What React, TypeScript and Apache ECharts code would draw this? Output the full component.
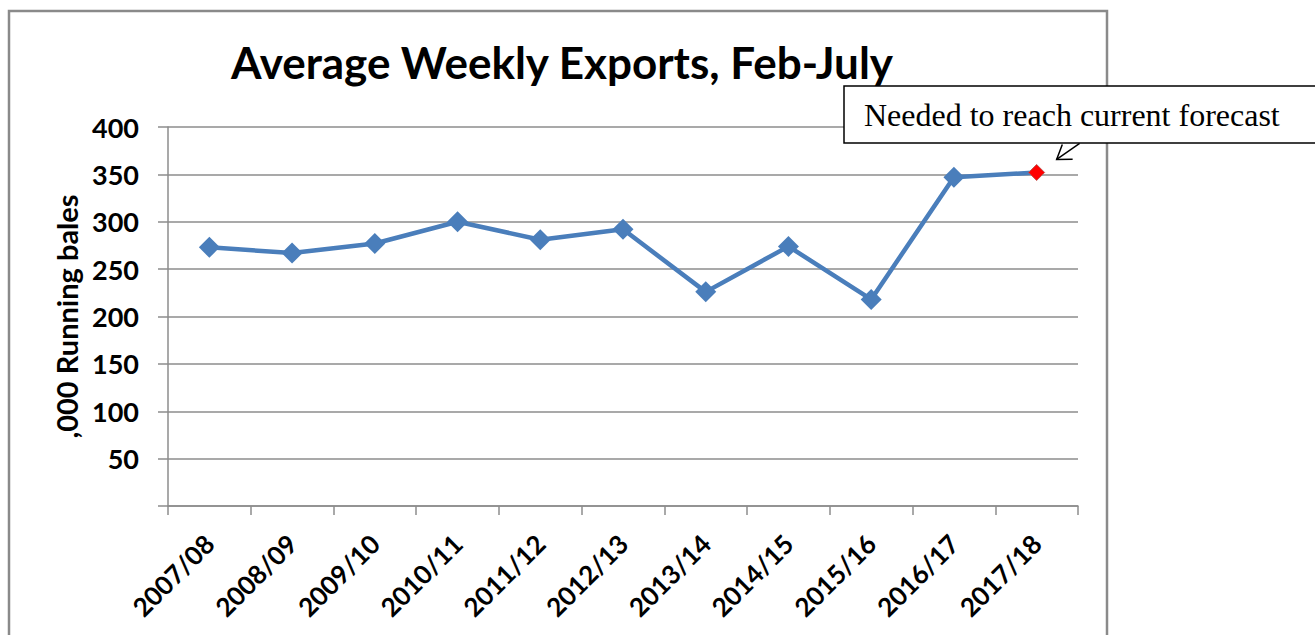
import React, { useEffect, useRef } from "react";
import * as echarts from "echarts";

const categories = ["2007/08", "2008/09", "2009/10", "2010/11", "2011/12", "2012/13", "2013/14", "2014/15", "2015/16", "2016/17", "2017/18"];
const exportsValues = [273, 267, 277, 300, 281, 292, 226, 274, 218, 347, 352];
const yTicks = { min: 0, max: 400, interval: 50 };
const titleText = "Average Weekly Exports, Feb-July";
const yAxisName = ",000 Running bales";
const annotationText = "Needed to reach current forecast";

const SANS = "Lato, 'Open Sans', sans-serif";

export default function App() {
  const ref = useRef<HTMLDivElement>(null);
  useEffect(() => {
    if (!ref.current) return;
    const chart = echarts.init(ref.current, null, { renderer: "svg" });
    const last = exportsValues.length - 1;
    const data = exportsValues.map((v, i) =>
      i === last
        ? { value: v, symbolSize: 16, itemStyle: { color: "#ff0000", borderColor: "#c0504d", borderWidth: 1 } }
        : v
    );
    chart.setOption({
      animation: false,
      backgroundColor: "#ffffff",
      title: {
        text: titleText,
        left: 557,
        top: 35,
        textAlign: "center",
        textStyle: { fontFamily: SANS, fontWeight: "bold", fontSize: 44, color: "#000" },
      },
      grid: { left: 168, right: 237, top: 127, bottom: 129, containLabel: false },
      xAxis: {
        type: "category",
        data: categories,
        boundaryGap: true,
        axisLine: { show: true, lineStyle: { color: "#8c8c8c", width: 1.5 } },
        axisTick: { show: true, length: 9, lineStyle: { color: "#8c8c8c", width: 1.5 }, alignWithLabel: false },
        axisLabel: {
          rotate: 45,
          interval: 0,
          margin: 33,
          fontFamily: SANS,
          fontWeight: "bold",
          fontSize: 26,
          color: "#000",
        },
      },
      yAxis: {
        type: "value",
        min: yTicks.min,
        max: yTicks.max,
        interval: yTicks.interval,
        name: yAxisName,
        nameLocation: "middle",
        nameGap: 86,
        nameRotate: 90,
        nameTextStyle: { fontFamily: SANS, fontWeight: "bold", fontSize: 29, color: "#000" },
        axisLine: { show: true, lineStyle: { color: "#8c8c8c", width: 1.5 } },
        axisTick: { show: true, length: 10, lineStyle: { color: "#8c8c8c", width: 1.5 } },
        splitLine: { show: true, lineStyle: { color: "#8c8c8c", width: 1.5 } },
        axisLabel: {
          margin: 29,
          fontFamily: SANS,
          fontWeight: "bold",
          fontSize: 27,
          color: "#000",
          formatter: (v: number) => (v === 0 ? "" : String(v)),
        },
      },
      series: [
        {
          type: "line",
          data,
          symbol: "diamond",
          symbolSize: 21,
          lineStyle: { color: "#4a7ebb", width: 4.5 },
          itemStyle: { color: "#4a7ebb" },
          z: 3,
        },
      ],
    });

    const p = chart.convertToPixel({ seriesIndex: 0 }, [last, exportsValues[last]]) as number[];
    const tip = [p[0] + 20, p[1] - 13];
    const tail = [p[0] + 43, p[1] - 29];
    const dx = tail[0] - tip[0];
    const dy = tail[1] - tip[1];
    const len = Math.hypot(dx, dy);
    const ux = dx / len;
    const uy = dy / len;
    const wing = (ang: number) => {
      const c = Math.cos(ang), s = Math.sin(ang);
      const rx = ux * c - uy * s;
      const ry = ux * s + uy * c;
      return [tip[0] + rx * 16, tip[1] + ry * 16];
    };

    chart.setOption({
      graphic: [
        {
          type: "polyline",
          z: 100,
          silent: true,
          shape: { points: [[9, 700], [9, 11], [1107, 11], [1107, 700]] },
          style: { stroke: "#8a8a8a", lineWidth: 2.5, fill: null },
        },
        {
          type: "line",
          z: 101,
          shape: { x1: tip[0], y1: tip[1], x2: tail[0], y2: tail[1] },
          style: { stroke: "#000", lineWidth: 1.5 },
        },
        {
          type: "polyline",
          z: 101,
          shape: { points: [wing(0.6), tip, wing(-0.6)] },
          style: { stroke: "#000", lineWidth: 1.5, fill: null },
        },
        {
          type: "rect",
          z: 102,
          shape: { x: 844, y: 86, width: 480, height: 57 },
          style: { fill: "#ffffff", stroke: "#000", lineWidth: 1.5 },
        },
        {
          type: "text",
          z: 103,
          x: 864,
          y: 115,
          style: {
            text: annotationText,
            fontFamily: "'Liberation Serif', 'Times New Roman', serif",
            fontSize: 32,
            fill: "#000",
            verticalAlign: "middle",
          },
        },
      ],
    });

    return () => chart.dispose();
  }, []);
  return <div ref={ref} style={{ position: "fixed", left: 0, top: 0, width: 1315, height: 635 }} />;
}
